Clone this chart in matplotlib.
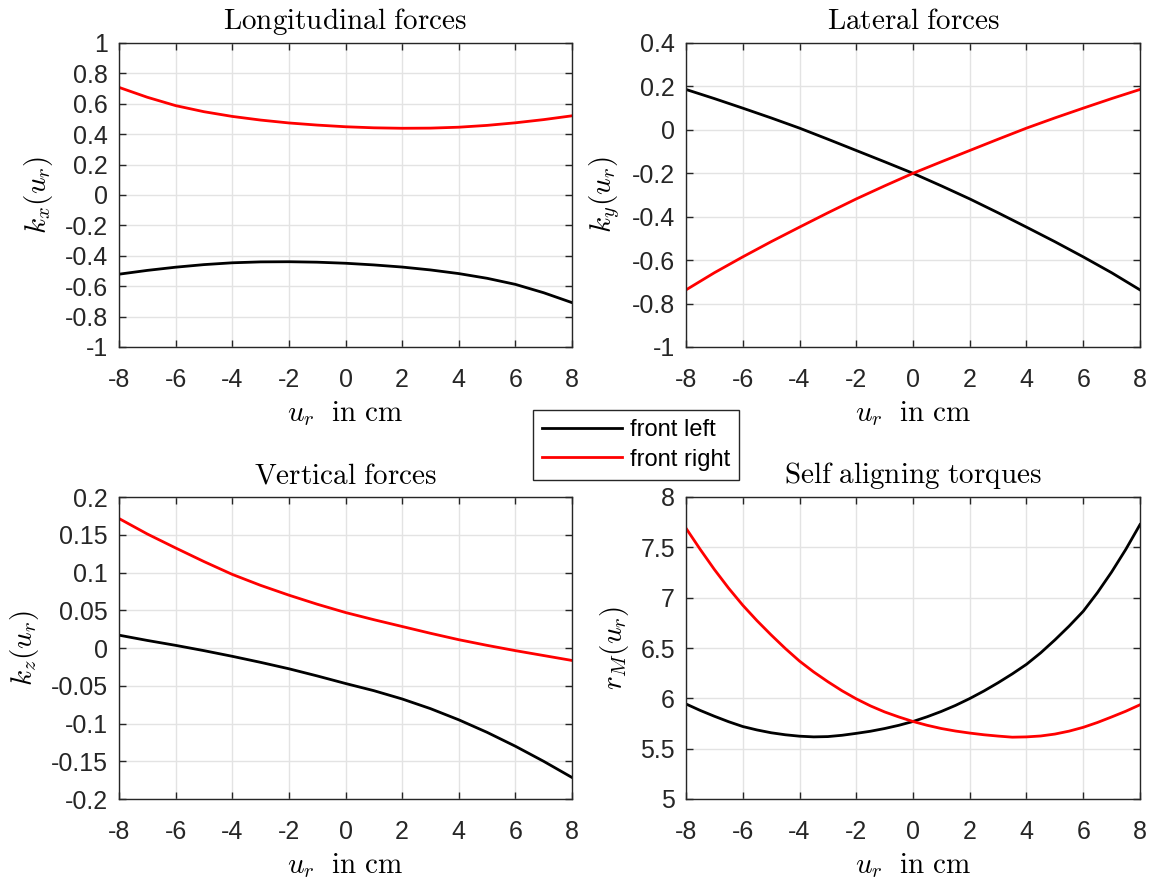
import matplotlib
matplotlib.use('Agg')
import matplotlib.pyplot as plt
from matplotlib.ticker import FixedLocator, FuncFormatter

plt.rcParams['font.family'] = ['Liberation Sans', 'DejaVu Sans']
plt.rcParams['mathtext.fontset'] = 'cm'
plt.rcParams['axes.unicode_minus'] = False

# ---------------- data ----------------
u_r = [-8, -7, -6, -5, -4, -3, -2, -1, 0, 1, 2, 3, 4, 5, 6, 7, 8]
u_r_half = [-8, -7.5, -7, -6.5, -6, -5.5, -5, -4.5, -4, -3.5, -3, -2.5, -2, -1.5, -1, -0.5, 0,
            0.5, 1, 1.5, 2, 2.5, 3, 3.5, 4, 4.5, 5, 5.5, 6, 6.5, 7, 7.5, 8]

kx_front_left = [-0.521, -0.496, -0.475, -0.458, -0.446, -0.440, -0.439, -0.442, -0.449,
                 -0.460, -0.474, -0.493, -0.517, -0.548, -0.588, -0.643, -0.708]
kx_front_right = [0.708, 0.643, 0.588, 0.548, 0.517, 0.493, 0.474, 0.460, 0.449,
                  0.442, 0.439, 0.440, 0.446, 0.458, 0.475, 0.496, 0.521]

ky_front_left = [0.186, 0.144, 0.100, 0.055, 0.008, -0.043, -0.095, -0.147, -0.200,
                 -0.258, -0.318, -0.382, -0.448, -0.515, -0.585, -0.658, -0.737]
ky_front_right = [-0.737, -0.658, -0.585, -0.515, -0.448, -0.382, -0.318, -0.258, -0.200,
                  -0.147, -0.095, -0.043, 0.008, 0.055, 0.100, 0.144, 0.186]

kz_front_left = [0.017, 0.010, 0.0035, -0.0035, -0.011, -0.019, -0.0275, -0.037, -0.047,
                 -0.0565, -0.0675, -0.0803, -0.0951, -0.1117, -0.1301, -0.1501, -0.1715]
kz_front_right = [0.1715, 0.151, 0.1325, 0.1145, 0.0975, 0.083, 0.070, 0.058, 0.047,
                  0.0375, 0.0285, 0.0195, 0.011, 0.0035, -0.0035, -0.010, -0.0165]

rM_front_left = [5.944, 5.880, 5.822, 5.768, 5.720, 5.686, 5.658, 5.638, 5.624, 5.617, 5.620,
                 5.633, 5.652, 5.673, 5.700, 5.732, 5.770, 5.817, 5.870, 5.930, 5.998, 6.073,
                 6.155, 6.243, 6.338, 6.452, 6.580, 6.717, 6.865, 7.050, 7.255, 7.480, 7.726]
rM_front_right = [7.690, 7.480, 7.280, 7.095, 6.925, 6.772, 6.630, 6.495, 6.370, 6.262, 6.165,
                  6.075, 5.995, 5.925, 5.865, 5.815, 5.770, 5.732, 5.700, 5.675, 5.655, 5.638,
                  5.625, 5.614, 5.617, 5.626, 5.645, 5.674, 5.712, 5.760, 5.815, 5.872, 5.936]

x_ticks = [-8, -6, -4, -2, 0, 2, 4, 6, 8]
kx_ticks = [-1, -0.8, -0.6, -0.4, -0.2, 0, 0.2, 0.4, 0.6, 0.8, 1]
ky_ticks = [-1, -0.8, -0.6, -0.4, -0.2, 0, 0.2, 0.4]
kz_ticks = [-0.2, -0.15, -0.1, -0.05, 0, 0.05, 0.1, 0.15, 0.2]
rM_ticks = [5, 5.5, 6, 6.5, 7, 7.5, 8]

titles = ['Longitudinal forces', 'Lateral forces', 'Vertical forces', 'Self aligning torques']
ylabels = [r'$k_x(u_r)$', r'$k_y(u_r)$', r'$k_z(u_r)$', r'$r_M(u_r)$']
xlabel = r'$u_r\ \ \mathrm{in\ cm}$'
legend_labels = ['front left', 'front right']

# ---------------- figure ----------------
W, H = 1153, 880
fig = plt.figure(figsize=(W / 100, H / 100), dpi=100)

def px_axes(x0, y0, x1, y1):
    return fig.add_axes([x0 / W, 1 - y1 / H, (x1 - x0) / W, (y1 - y0) / H])

axes = [
    px_axes(119, 43, 572, 347),
    px_axes(686, 43, 1140, 347),
    px_axes(119, 497, 572, 799),
    px_axes(686, 497, 1140, 799),
]

datasets = [
    (u_r, kx_front_left, kx_front_right, kx_ticks),
    (u_r, ky_front_left, ky_front_right, ky_ticks),
    (u_r, kz_front_left, kz_front_right, kz_ticks),
    (u_r_half, rM_front_left, rM_front_right, rM_ticks),
]

fmt = FuncFormatter(lambda v, p: f'{round(v, 6):g}' if abs(v) > 1e-12 else '0')
axcol = '#262626'
handles = None
for ax, (xs, fl, fr, yt), title, yl in zip(axes, datasets, titles, ylabels):
    h1, = ax.plot(xs, fl, color='black', lw=2.0, solid_joinstyle='round')
    h2, = ax.plot(xs, fr, color='#ff0000', lw=2.0, solid_joinstyle='round')
    handles = [h1, h2]
    ax.set_xlim(-8, 8)
    ax.set_ylim(yt[0], yt[-1])
    ax.xaxis.set_major_locator(FixedLocator(x_ticks))
    ax.yaxis.set_major_locator(FixedLocator(yt))
    ax.xaxis.set_major_formatter(fmt)
    ax.yaxis.set_major_formatter(fmt)
    ax.grid(True, color='#e3e3e3', lw=1.0)
    ax.set_axisbelow(True)
    for s in ax.spines.values():
        s.set_color(axcol)
        s.set_linewidth(1.0)
    ax.tick_params(direction='in', length=5, width=1.0, color=axcol, labelcolor=axcol,
                   top=True, right=True, labelsize=18)
    ax.tick_params(axis='x', pad=15)
    ax.tick_params(axis='y', pad=8)
    ax.set_title(r'$\mathrm{' + title.replace(' ', r'\ ') + '}$', fontsize=21, pad=10)
    ax.set_xlabel(xlabel, fontsize=21, labelpad=5)
    ax.set_ylabel(yl, fontsize=21, labelpad=7)

leg = fig.legend(handles, legend_labels, loc='center', bbox_to_anchor=(636 / W, 1 - 445 / H),
                 fontsize=17, frameon=True, fancybox=False, framealpha=1,
                 edgecolor=axcol, handlelength=3.4, handletextpad=0.3,
                 borderpad=0.4, labelspacing=0.3, borderaxespad=0)
leg.get_frame().set_linewidth(1.0)

fig.savefig('out.png', dpi=100)
